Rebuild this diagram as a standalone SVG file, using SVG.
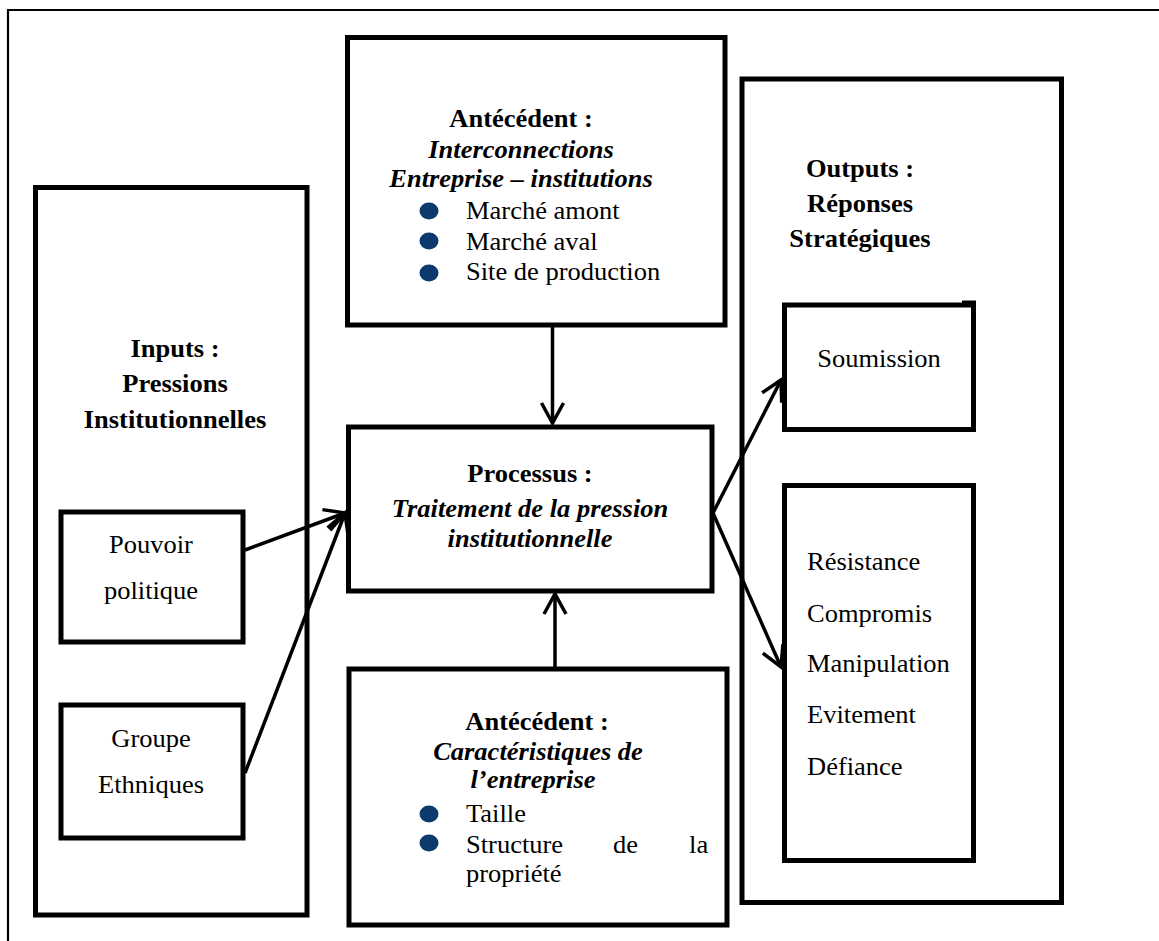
<svg xmlns="http://www.w3.org/2000/svg" width="1159" height="941" viewBox="0 0 1159 941">
<style>
.frame{fill:none;stroke:#000;stroke-width:2.2}
.box{fill:none;stroke:#000;stroke-width:5}
.t{font-family:"Liberation Serif","Times New Roman",serif;font-size:25px;fill:#000}
.b{font-weight:bold}
.i{font-style:italic}
.bi{font-weight:bold;font-style:italic}
.m{text-anchor:middle}
.bul{fill:#0c3a6c}
.conn{fill:none;stroke:#000;stroke-width:3.5}
</style>
<defs>
<marker id="arr" markerUnits="userSpaceOnUse" viewBox="-24 -14 28 28" markerWidth="28" markerHeight="28" refX="0" refY="0" orient="auto">
<path d="M-20,-11 L0,0 L-20,11" fill="none" stroke="#000" stroke-width="3.5" stroke-linejoin="miter"/>
</marker>
</defs>
<rect x="0" y="0" width="1159" height="941" fill="#fff"/>
<path class="frame" d="M8,941 L8,10 L1159,10"/>

<g id="inputs">
<rect class="box" x="35.5" y="187.5" width="271.5" height="727.5"/>
<text class="t b m" transform="translate(175,357) scale(1.06,1)">Inputs :</text>
<text class="t b m" transform="translate(175,392) scale(1.06,1)">Pressions</text>
<text class="t b m" transform="translate(175,428) scale(1.06,1)">Institutionnelles</text>
</g>

<g id="pouvoir">
<rect class="box" x="61" y="512" width="182" height="130"/>
<text class="t m" transform="translate(151,553) scale(1.06,1)">Pouvoir</text>
<text class="t m" transform="translate(151,599) scale(1.06,1)">politique</text>
</g>

<g id="groupe">
<rect class="box" x="61" y="705" width="182" height="133"/>
<text class="t m" transform="translate(151,747) scale(1.06,1)">Groupe</text>
<text class="t m" transform="translate(151,793) scale(1.06,1)">Ethniques</text>
</g>

<g id="antecedent-top">
<rect class="box" x="347.5" y="37.5" width="377.5" height="287.5"/>
<text class="t b m" transform="translate(521,127) scale(1.06,1)">Antécédent :</text>
<text class="t bi m" transform="translate(521,158) scale(1.06,1)">Interconnections</text>
<text class="t bi m" transform="translate(521,187) scale(1.06,1)">Entreprise – institutions</text>
<ellipse class="bul" cx="429" cy="211" rx="9.5" ry="8.5"/>
<ellipse class="bul" cx="429" cy="241" rx="9.5" ry="8.5"/>
<ellipse class="bul" cx="429" cy="273" rx="9.5" ry="8.5"/>
<text class="t" transform="translate(466,219) scale(1.06,1)">Marché amont</text>
<text class="t" transform="translate(466,250) scale(1.06,1)">Marché aval</text>
<text class="t" transform="translate(466,280) scale(1.06,1)">Site de production</text>
</g>

<g id="processus">
<rect class="box" x="348.5" y="427" width="363.5" height="164"/>
<text class="t b m" transform="translate(530,482) scale(1.06,1)">Processus :</text>
<text class="t bi m" transform="translate(530,517) scale(1.06,1)">Traitement de la pression</text>
<text class="t bi m" transform="translate(530,547) scale(1.06,1)">institutionnelle</text>
</g>

<g id="antecedent-bottom">
<rect class="box" x="349" y="669" width="378" height="256"/>
<text class="t b m" transform="translate(537,730) scale(1.06,1)">Antécédent :</text>
<text class="t bi m" transform="translate(538,760) scale(1.06,1)">Caractéristiques de</text>
<text class="t bi m" transform="translate(533,788) scale(1.06,1)">l’entreprise</text>
<ellipse class="bul" cx="429" cy="814" rx="9.5" ry="8.5"/>
<ellipse class="bul" cx="429" cy="843" rx="9.5" ry="8.5"/>
<text class="t" transform="translate(466,822) scale(1.06,1)">Taille</text>
<text class="t" transform="translate(466,853) scale(1.06,1)"><tspan x="0">Structure</tspan><tspan x="138.7">de</tspan><tspan x="210.4">la</tspan></text>
<text class="t" transform="translate(466,882) scale(1.06,1)">propriété</text>
</g>

<g id="outputs">
<rect class="box" x="742" y="79" width="319.5" height="823.5"/>
<text class="t b m" transform="translate(860,177) scale(1.06,1)">Outputs :</text>
<text class="t b m" transform="translate(860,212) scale(1.06,1)">Réponses</text>
<text class="t b m" transform="translate(860,247) scale(1.06,1)">Stratégiques</text>
</g>

<g id="soumission">
<rect class="box" x="784.5" y="305" width="189" height="124.5"/>
<path d="M962,303 L976,303" stroke="#000" stroke-width="5"/>
<text class="t m" transform="translate(879,367) scale(1.06,1)">Soumission</text>
</g>

<g id="resistance">
<rect class="box" x="784.5" y="485.5" width="189" height="375"/>
<text class="t" transform="translate(807,570) scale(1.06,1)">Résistance</text>
<text class="t" transform="translate(807,622) scale(1.06,1)">Compromis</text>
<text class="t" transform="translate(807,672) scale(1.06,1)">Manipulation</text>
<text class="t" transform="translate(807,723) scale(1.06,1)">Evitement</text>
<text class="t" transform="translate(807,775) scale(1.06,1)">Défiance</text>
</g>

<g id="connectors">
<line class="conn" x1="552.5" y1="327" x2="552.5" y2="423" marker-end="url(#arr)"/>
<line class="conn" x1="555" y1="667" x2="555" y2="594" marker-end="url(#arr)"/>
<line class="conn" x1="245" y1="550" x2="345" y2="513" marker-end="url(#arr)"/>
<line class="conn" x1="245" y1="773" x2="345" y2="513" marker-end="url(#arr)"/>
<line class="conn" x1="713" y1="513" x2="781" y2="380" marker-end="url(#arr)"/>
<line class="conn" x1="713" y1="513" x2="781" y2="667" marker-end="url(#arr)"/>
</g>
</svg>
